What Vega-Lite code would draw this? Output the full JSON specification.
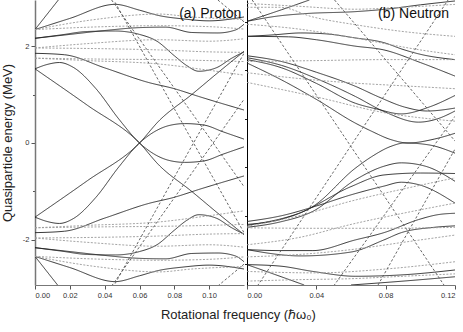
{
"$schema":"https://vega.github.io/schema/vega-lite/v6.json",
"padding":{"left":1,"top":0,"right":2,"bottom":4},
"config":{"font":"Liberation Sans","view":{"stroke":null},"concat":{"spacing":0}},
"title":{"text":"Rotational frequency (ℏω₀)","orient":"bottom","anchor":"middle","fontSize":13,"fontWeight":"normal","color":"#222","offset":10,"dx":10},
"datasets":{
"left":[
{"c":"LA","t":"s","x":0,"y":2.34},{"c":"LA","t":"s","x":0.0134,"y":2.95},
{"c":"LB","t":"s","x":0,"y":2.34},{"c":"LB","t":"s","x":0.02,"y":2.57},{"c":"LB","t":"s","x":0.046,"y":2.86},{"c":"LB","t":"s","x":0.06,"y":2.74},{"c":"LB","t":"s","x":0.071,"y":2.63},{"c":"LB","t":"s","x":0.085,"y":2.56},{"c":"LB","t":"s","x":0.1,"y":2.52},{"c":"LB","t":"s","x":0.12,"y":2.6},
{"c":"LC","t":"s","x":0,"y":2.16},{"c":"LC","t":"s","x":0.02,"y":2.24},{"c":"LC","t":"s","x":0.04,"y":2.32},{"c":"LC","t":"s","x":0.06,"y":2.38},{"c":"LC","t":"s","x":0.075,"y":2.39},{"c":"LC","t":"s","x":0.09,"y":2.28},{"c":"LC","t":"s","x":0.105,"y":2.27},{"c":"LC","t":"s","x":0.115,"y":2.33},{"c":"LC","t":"s","x":0.12,"y":2.45},
{"c":"LD","t":"s","x":0,"y":2.16},{"c":"LD","t":"s","x":0.015,"y":2.23},{"c":"LD","t":"s","x":0.03,"y":2.3},{"c":"LD","t":"s","x":0.046,"y":2.31},{"c":"LD","t":"s","x":0.06,"y":2.24},{"c":"LD","t":"s","x":0.07,"y":2.1},{"c":"LD","t":"s","x":0.08,"y":1.8},{"c":"LD","t":"s","x":0.087,"y":1.6},{"c":"LD","t":"s","x":0.094,"y":1.48},{"c":"LD","t":"s","x":0.104,"y":1.55},{"c":"LD","t":"s","x":0.113,"y":1.75},{"c":"LD","t":"s","x":0.12,"y":1.88},
{"c":"LE","t":"s","x":0,"y":1.53},{"c":"LE","t":"s","x":0.007,"y":1.62},{"c":"LE","t":"s","x":0.014,"y":1.66},{"c":"LE","t":"s","x":0.022,"y":1.56},{"c":"LE","t":"s","x":0.035,"y":1.12},{"c":"LE","t":"s","x":0.048,"y":0.5},{"c":"LE","t":"s","x":0.06,"y":0},{"c":"LE","t":"s","x":0.068,"y":-0.22},{"c":"LE","t":"s","x":0.077,"y":-0.36},{"c":"LE","t":"s","x":0.086,"y":-0.4},{"c":"LE","t":"s","x":0.097,"y":-0.37},{"c":"LE","t":"s","x":0.108,"y":-0.23},{"c":"LE","t":"s","x":0.12,"y":-0.08},
{"c":"LF","t":"s","x":0,"y":1.53},{"c":"LF","t":"s","x":0.03,"y":0.78},{"c":"LF","t":"s","x":0.06,"y":0},{"c":"LF","t":"s","x":0.071,"y":-0.45},{"c":"LF","t":"s","x":0.09,"y":-1.0},{"c":"LF","t":"s","x":0.105,"y":-1.45},{"c":"LF","t":"s","x":0.12,"y":-1.89},
{"c":"LG","t":"s","x":0,"y":1.85},{"c":"LG","t":"s","x":0.017,"y":1.82},{"c":"LG","t":"s","x":0.04,"y":1.55},{"c":"LG","t":"s","x":0.065,"y":1.25},{"c":"LG","t":"s","x":0.08,"y":1.12},{"c":"LG","t":"s","x":0.094,"y":0.96},{"c":"LG","t":"s","x":0.12,"y":0.68},
{"c":"Ld3","t":"d","x":0,"y":2.34},{"c":"Ld3","t":"d","x":0.035,"y":2.55},{"c":"Ld3","t":"d","x":0.071,"y":2.66},{"c":"Ld3","t":"d","x":0.09,"y":2.6},{"c":"Ld3","t":"d","x":0.12,"y":2.55},
{"c":"Ld4","t":"d","x":0,"y":2.34},{"c":"Ld4","t":"d","x":0.04,"y":2.4},{"c":"Ld4","t":"d","x":0.071,"y":2.42},{"c":"Ld4","t":"d","x":0.1,"y":2.4},{"c":"Ld4","t":"d","x":0.12,"y":2.35},
{"c":"Ld5","t":"d","x":0,"y":1.96},{"c":"Ld5","t":"d","x":0.03,"y":1.95},{"c":"Ld5","t":"d","x":0.071,"y":1.92},{"c":"Ld5","t":"d","x":0.1,"y":1.88},{"c":"Ld5","t":"d","x":0.12,"y":1.87},
{"c":"Ld6","t":"d","x":0,"y":1.96},{"c":"Ld6","t":"d","x":0.03,"y":2.05},{"c":"Ld6","t":"d","x":0.071,"y":2.13},{"c":"Ld6","t":"d","x":0.1,"y":2.1},{"c":"Ld6","t":"d","x":0.12,"y":2.15},
{"c":"Ld7","t":"d","x":0,"y":1.75},{"c":"Ld7","t":"d","x":0.03,"y":1.7},{"c":"Ld7","t":"d","x":0.071,"y":1.63},{"c":"Ld7","t":"d","x":0.1,"y":1.5},{"c":"Ld7","t":"d","x":0.12,"y":1.4},
{"c":"Ld8","t":"d","x":0,"y":1.75},{"c":"Ld8","t":"d","x":0.04,"y":1.73},{"c":"Ld8","t":"d","x":0.071,"y":1.72},{"c":"Ld8","t":"d","x":0.1,"y":1.7},{"c":"Ld8","t":"d","x":0.12,"y":1.68},
{"c":"Ld1","t":"l","x":0.044,"y":2.95},{"c":"Ld1","t":"l","x":0.1023,"y":0},{"c":"Ld1","t":"l","x":0.12,"y":-0.9},
{"c":"Ld2","t":"l","x":0.046,"y":2.9},{"c":"Ld2","t":"l","x":0.091,"y":0},{"c":"Ld2","t":"l","x":0.12,"y":-1.85},
{"c":"Ld9","t":"l","x":0.105,"y":2.95},{"c":"Ld9","t":"l","x":0.12,"y":2.5},
{"c":"LAm","t":"s","x":0,"y":-2.34},{"c":"LAm","t":"s","x":0.0134,"y":-2.95},
{"c":"LBm","t":"s","x":0,"y":-2.34},{"c":"LBm","t":"s","x":0.02,"y":-2.57},{"c":"LBm","t":"s","x":0.046,"y":-2.86},{"c":"LBm","t":"s","x":0.06,"y":-2.74},{"c":"LBm","t":"s","x":0.071,"y":-2.63},{"c":"LBm","t":"s","x":0.085,"y":-2.56},{"c":"LBm","t":"s","x":0.1,"y":-2.52},{"c":"LBm","t":"s","x":0.12,"y":-2.6},
{"c":"LCm","t":"s","x":0,"y":-2.16},{"c":"LCm","t":"s","x":0.02,"y":-2.24},{"c":"LCm","t":"s","x":0.04,"y":-2.32},{"c":"LCm","t":"s","x":0.06,"y":-2.38},{"c":"LCm","t":"s","x":0.075,"y":-2.39},{"c":"LCm","t":"s","x":0.09,"y":-2.28},{"c":"LCm","t":"s","x":0.105,"y":-2.27},{"c":"LCm","t":"s","x":0.115,"y":-2.33},{"c":"LCm","t":"s","x":0.12,"y":-2.45},
{"c":"LDm","t":"s","x":0,"y":-2.16},{"c":"LDm","t":"s","x":0.015,"y":-2.23},{"c":"LDm","t":"s","x":0.03,"y":-2.3},{"c":"LDm","t":"s","x":0.046,"y":-2.31},{"c":"LDm","t":"s","x":0.06,"y":-2.24},{"c":"LDm","t":"s","x":0.07,"y":-2.1},{"c":"LDm","t":"s","x":0.08,"y":-1.8},{"c":"LDm","t":"s","x":0.087,"y":-1.6},{"c":"LDm","t":"s","x":0.094,"y":-1.48},{"c":"LDm","t":"s","x":0.104,"y":-1.55},{"c":"LDm","t":"s","x":0.113,"y":-1.75},{"c":"LDm","t":"s","x":0.12,"y":-1.88},
{"c":"LEm","t":"s","x":0,"y":-1.53},{"c":"LEm","t":"s","x":0.007,"y":-1.62},{"c":"LEm","t":"s","x":0.014,"y":-1.66},{"c":"LEm","t":"s","x":0.022,"y":-1.56},{"c":"LEm","t":"s","x":0.035,"y":-1.12},{"c":"LEm","t":"s","x":0.048,"y":-0.5},{"c":"LEm","t":"s","x":0.06,"y":0},{"c":"LEm","t":"s","x":0.068,"y":0.22},{"c":"LEm","t":"s","x":0.077,"y":0.36},{"c":"LEm","t":"s","x":0.086,"y":0.4},{"c":"LEm","t":"s","x":0.097,"y":0.37},{"c":"LEm","t":"s","x":0.108,"y":0.23},{"c":"LEm","t":"s","x":0.12,"y":0.08},
{"c":"LFm","t":"s","x":0,"y":-1.53},{"c":"LFm","t":"s","x":0.03,"y":-0.78},{"c":"LFm","t":"s","x":0.06,"y":0},{"c":"LFm","t":"s","x":0.071,"y":0.45},{"c":"LFm","t":"s","x":0.09,"y":1.0},{"c":"LFm","t":"s","x":0.105,"y":1.45},{"c":"LFm","t":"s","x":0.12,"y":1.89},
{"c":"LGm","t":"s","x":0,"y":-1.85},{"c":"LGm","t":"s","x":0.017,"y":-1.82},{"c":"LGm","t":"s","x":0.04,"y":-1.55},{"c":"LGm","t":"s","x":0.065,"y":-1.25},{"c":"LGm","t":"s","x":0.08,"y":-1.12},{"c":"LGm","t":"s","x":0.094,"y":-0.96},{"c":"LGm","t":"s","x":0.12,"y":-0.68},
{"c":"Ld3m","t":"d","x":0,"y":-2.34},{"c":"Ld3m","t":"d","x":0.035,"y":-2.55},{"c":"Ld3m","t":"d","x":0.071,"y":-2.66},{"c":"Ld3m","t":"d","x":0.09,"y":-2.6},{"c":"Ld3m","t":"d","x":0.12,"y":-2.55},
{"c":"Ld4m","t":"d","x":0,"y":-2.34},{"c":"Ld4m","t":"d","x":0.04,"y":-2.4},{"c":"Ld4m","t":"d","x":0.071,"y":-2.42},{"c":"Ld4m","t":"d","x":0.1,"y":-2.4},{"c":"Ld4m","t":"d","x":0.12,"y":-2.35},
{"c":"Ld5m","t":"d","x":0,"y":-1.96},{"c":"Ld5m","t":"d","x":0.03,"y":-1.95},{"c":"Ld5m","t":"d","x":0.071,"y":-1.92},{"c":"Ld5m","t":"d","x":0.1,"y":-1.88},{"c":"Ld5m","t":"d","x":0.12,"y":-1.87},
{"c":"Ld6m","t":"d","x":0,"y":-1.96},{"c":"Ld6m","t":"d","x":0.03,"y":-2.05},{"c":"Ld6m","t":"d","x":0.071,"y":-2.13},{"c":"Ld6m","t":"d","x":0.1,"y":-2.1},{"c":"Ld6m","t":"d","x":0.12,"y":-2.15},
{"c":"Ld7m","t":"d","x":0,"y":-1.75},{"c":"Ld7m","t":"d","x":0.03,"y":-1.7},{"c":"Ld7m","t":"d","x":0.071,"y":-1.63},{"c":"Ld7m","t":"d","x":0.1,"y":-1.5},{"c":"Ld7m","t":"d","x":0.12,"y":-1.4},
{"c":"Ld8m","t":"d","x":0,"y":-1.75},{"c":"Ld8m","t":"d","x":0.04,"y":-1.73},{"c":"Ld8m","t":"d","x":0.071,"y":-1.72},{"c":"Ld8m","t":"d","x":0.1,"y":-1.7},{"c":"Ld8m","t":"d","x":0.12,"y":-1.68},
{"c":"Ld1m","t":"l","x":0.044,"y":-2.95},{"c":"Ld1m","t":"l","x":0.1023,"y":0},{"c":"Ld1m","t":"l","x":0.12,"y":0.9},
{"c":"Ld2m","t":"l","x":0.046,"y":-2.9},{"c":"Ld2m","t":"l","x":0.091,"y":0},{"c":"Ld2m","t":"l","x":0.12,"y":1.85},
{"c":"Ld9m","t":"l","x":0.105,"y":-2.95},{"c":"Ld9m","t":"l","x":0.12,"y":-2.5}
],
"right":[
{"c":"R1","t":"s","x":0,"y":2.51},{"c":"R1","t":"s","x":0.018,"y":2.62},{"c":"R1","t":"s","x":0.034,"y":2.67},{"c":"R1","t":"s","x":0.0625,"y":2.71},{"c":"R1","t":"s","x":0.08,"y":2.76},{"c":"R1","t":"s","x":0.1,"y":2.85},{"c":"R1","t":"s","x":0.12,"y":2.93},
{"c":"R2","t":"s","x":0,"y":2.51},{"c":"R2","t":"s","x":0.02,"y":2.75},{"c":"R2","t":"s","x":0.036,"y":2.95},
{"c":"R3","t":"s","x":0,"y":2.2},{"c":"R3","t":"s","x":0.015,"y":2.23},{"c":"R3","t":"s","x":0.031,"y":2.27},{"c":"R3","t":"s","x":0.046,"y":2.25},{"c":"R3","t":"s","x":0.062,"y":2.17},{"c":"R3","t":"s","x":0.079,"y":2.07},{"c":"R3","t":"s","x":0.09,"y":1.93},{"c":"R3","t":"s","x":0.1,"y":1.83},{"c":"R3","t":"s","x":0.12,"y":1.72},
{"c":"R4","t":"s","x":0,"y":2.2},{"c":"R4","t":"s","x":0.024,"y":2.19},{"c":"R4","t":"s","x":0.04,"y":2.13},{"c":"R4","t":"s","x":0.062,"y":2.0},{"c":"R4","t":"s","x":0.079,"y":1.92},{"c":"R4","t":"s","x":0.1,"y":1.66},{"c":"R4","t":"s","x":0.12,"y":1.38},
{"c":"R5","t":"s","x":0,"y":1.8},{"c":"R5","t":"s","x":0.02,"y":1.68},{"c":"R5","t":"s","x":0.04,"y":1.46},{"c":"R5","t":"s","x":0.0625,"y":1.17},{"c":"R5","t":"s","x":0.076,"y":0.95},{"c":"R5","t":"s","x":0.091,"y":0.74},{"c":"R5","t":"s","x":0.104,"y":0.66},{"c":"R5","t":"s","x":0.12,"y":0.72},
{"c":"R6","t":"s","x":0,"y":1.76},{"c":"R6","t":"s","x":0.02,"y":1.6},{"c":"R6","t":"s","x":0.04,"y":1.33},{"c":"R6","t":"s","x":0.0625,"y":0.96},{"c":"R6","t":"s","x":0.079,"y":0.65},{"c":"R6","t":"s","x":0.099,"y":0.43},{"c":"R6","t":"s","x":0.11,"y":0.5},{"c":"R6","t":"s","x":0.12,"y":0.66},
{"c":"R7","t":"s","x":0,"y":1.72},{"c":"R7","t":"s","x":0.02,"y":1.55},{"c":"R7","t":"s","x":0.04,"y":1.23},{"c":"R7","t":"s","x":0.0625,"y":0.82},{"c":"R7","t":"s","x":0.075,"y":0.7},{"c":"R7","t":"s","x":0.089,"y":0.6},{"c":"R7","t":"s","x":0.105,"y":0.74},{"c":"R7","t":"s","x":0.12,"y":0.98},
{"c":"R8","t":"s","x":0,"y":1.65},{"c":"R8","t":"s","x":0.02,"y":1.3},{"c":"R8","t":"s","x":0.04,"y":0.9},{"c":"R8","t":"s","x":0.0625,"y":0.41},{"c":"R8","t":"s","x":0.072,"y":0.24},{"c":"R8","t":"s","x":0.083,"y":0.07},{"c":"R8","t":"s","x":0.093,"y":0},{"c":"R8","t":"s","x":0.108,"y":0.08},{"c":"R8","t":"s","x":0.12,"y":0.2},
{"c":"L1","t":"s","x":0,"y":-1.68},{"c":"L1","t":"s","x":0.019,"y":-1.58},{"c":"L1","t":"s","x":0.038,"y":-1.31},{"c":"L1","t":"s","x":0.0625,"y":-0.52},{"c":"L1","t":"s","x":0.072,"y":-0.28},{"c":"L1","t":"s","x":0.083,"y":-0.07},{"c":"L1","t":"s","x":0.091,"y":0},{"c":"L1","t":"s","x":0.105,"y":-0.04},{"c":"L1","t":"s","x":0.12,"y":-0.21},
{"c":"L2","t":"s","x":0,"y":-1.74},{"c":"L2","t":"s","x":0.019,"y":-1.63},{"c":"L2","t":"s","x":0.038,"y":-1.41},{"c":"L2","t":"s","x":0.0625,"y":-0.76},{"c":"L2","t":"s","x":0.079,"y":-0.48},{"c":"L2","t":"s","x":0.089,"y":-0.41},{"c":"L2","t":"s","x":0.103,"y":-0.48},{"c":"L2","t":"s","x":0.12,"y":-0.79},
{"c":"L3","t":"s","x":0,"y":-1.7},{"c":"L3","t":"s","x":0.03,"y":-1.45},{"c":"L3","t":"s","x":0.06,"y":-0.9},{"c":"L3","t":"s","x":0.079,"y":-0.66},{"c":"L3","t":"s","x":0.1,"y":-0.62},{"c":"L3","t":"s","x":0.12,"y":-0.63},
{"c":"L4","t":"s","x":0,"y":-1.62},{"c":"L4","t":"s","x":0.02,"y":-1.5},{"c":"L4","t":"s","x":0.04,"y":-1.3},{"c":"L4","t":"s","x":0.06,"y":-1.07},{"c":"L4","t":"s","x":0.079,"y":-0.89},{"c":"L4","t":"s","x":0.089,"y":-0.81},{"c":"L4","t":"s","x":0.099,"y":-0.86},{"c":"L4","t":"s","x":0.12,"y":-1.24},
{"c":"L5","t":"s","x":0,"y":-2.2},{"c":"L5","t":"s","x":0.019,"y":-2.22},{"c":"L5","t":"s","x":0.038,"y":-2.22},{"c":"L5","t":"s","x":0.0625,"y":-2.0},{"c":"L5","t":"s","x":0.079,"y":-1.85},{"c":"L5","t":"s","x":0.099,"y":-1.58},{"c":"L5","t":"s","x":0.11,"y":-1.48},{"c":"L5","t":"s","x":0.12,"y":-1.45},
{"c":"L6","t":"s","x":0,"y":-2.2},{"c":"L6","t":"s","x":0.031,"y":-2.33},{"c":"L6","t":"s","x":0.06,"y":-2.25},{"c":"L6","t":"s","x":0.079,"y":-2.0},{"c":"L6","t":"s","x":0.089,"y":-1.85},{"c":"L6","t":"s","x":0.108,"y":-1.74},{"c":"L6","t":"s","x":0.12,"y":-1.71},
{"c":"L7","t":"s","x":0,"y":-2.51},{"c":"L7","t":"s","x":0.019,"y":-2.54},{"c":"L7","t":"s","x":0.038,"y":-2.65},{"c":"L7","t":"s","x":0.0625,"y":-2.75},{"c":"L7","t":"s","x":0.09,"y":-2.72},{"c":"L7","t":"s","x":0.12,"y":-2.62},
{"c":"L8","t":"s","x":0,"y":-2.51},{"c":"L8","t":"s","x":0.019,"y":-2.75},{"c":"L8","t":"s","x":0.033,"y":-2.93},
{"c":"L9","t":"s","x":0.06,"y":-2.93},{"c":"L9","t":"s","x":0.09,"y":-2.85},{"c":"L9","t":"s","x":0.12,"y":-2.76},
{"c":"Rd6","t":"d","x":0,"y":1.68},{"c":"Rd6","t":"d","x":0.04,"y":1.7},{"c":"Rd6","t":"d","x":0.08,"y":1.72},{"c":"Rd6","t":"d","x":0.12,"y":1.72},
{"c":"Rd7","t":"d","x":0,"y":2.88},{"c":"Rd7","t":"d","x":0.03,"y":2.82},{"c":"Rd7","t":"d","x":0.0625,"y":2.76},{"c":"Rd7","t":"d","x":0.09,"y":2.8},{"c":"Rd7","t":"d","x":0.12,"y":2.86},
{"c":"Rd8","t":"d","x":0,"y":2.8},{"c":"Rd8","t":"d","x":0.019,"y":2.8},{"c":"Rd8","t":"d","x":0.038,"y":2.6},{"c":"Rd8","t":"d","x":0.0625,"y":2.44},{"c":"Rd8","t":"d","x":0.09,"y":2.3},{"c":"Rd8","t":"d","x":0.12,"y":2.2},
{"c":"Rd9","t":"d","x":0,"y":2.45},{"c":"Rd9","t":"d","x":0.03,"y":2.35},{"c":"Rd9","t":"d","x":0.06,"y":2.18},{"c":"Rd9","t":"d","x":0.1,"y":1.92},{"c":"Rd9","t":"d","x":0.12,"y":1.82},
{"c":"Rd10","t":"d","x":0,"y":1.45},{"c":"Rd10","t":"d","x":0.03,"y":1.33},{"c":"Rd10","t":"d","x":0.06,"y":1.24},{"c":"Rd10","t":"d","x":0.09,"y":1.18},{"c":"Rd10","t":"d","x":0.12,"y":1.12},
{"c":"Rd11","t":"d","x":0,"y":1.25},{"c":"Rd11","t":"d","x":0.04,"y":0.95},{"c":"Rd11","t":"d","x":0.08,"y":0.62},{"c":"Rd11","t":"d","x":0.12,"y":0.45},
{"c":"rd12","t":"d","x":0,"y":-1.72},{"c":"rd12","t":"d","x":0.03,"y":-1.5},{"c":"rd12","t":"d","x":0.06,"y":-1.2},{"c":"rd12","t":"d","x":0.09,"y":-0.95},{"c":"rd12","t":"d","x":0.12,"y":-0.72},
{"c":"rd13","t":"d","x":0,"y":-1.75},{"c":"rd13","t":"d","x":0.04,"y":-1.76},{"c":"rd13","t":"d","x":0.08,"y":-1.76},{"c":"rd13","t":"d","x":0.12,"y":-1.74},
{"c":"rd14","t":"d","x":0,"y":-2.1},{"c":"rd14","t":"d","x":0.03,"y":-1.95},{"c":"rd14","t":"d","x":0.06,"y":-1.68},{"c":"rd14","t":"d","x":0.09,"y":-1.45},{"c":"rd14","t":"d","x":0.12,"y":-1.24},
{"c":"rd15","t":"d","x":0,"y":-2.35},{"c":"rd15","t":"d","x":0.03,"y":-2.3},{"c":"rd15","t":"d","x":0.06,"y":-2.2},{"c":"rd15","t":"d","x":0.09,"y":-2.05},{"c":"rd15","t":"d","x":0.12,"y":-1.9},
{"c":"rd16","t":"d","x":0,"y":-2.85},{"c":"rd16","t":"d","x":0.03,"y":-2.82},{"c":"rd16","t":"d","x":0.06,"y":-2.8},{"c":"rd16","t":"d","x":0.09,"y":-2.75},{"c":"rd16","t":"d","x":0.12,"y":-2.7},
{"c":"rd17","t":"d","x":0,"y":-2.65},{"c":"rd17","t":"d","x":0.04,"y":-2.68},{"c":"rd17","t":"d","x":0.08,"y":-2.6},{"c":"rd17","t":"d","x":0.12,"y":-2.45},
{"c":"Rd1","t":"l","x":0.003,"y":2.95},{"c":"Rd1","t":"l","x":0.0586,"y":0},{"c":"Rd1","t":"l","x":0.114,"y":-2.95},
{"c":"Rd2","t":"l","x":0.006,"y":-2.95},{"c":"Rd2","t":"l","x":0.061,"y":0},{"c":"Rd2","t":"l","x":0.116,"y":2.95},
{"c":"Rd3","t":"l","x":0.0505,"y":2.95},{"c":"Rd3","t":"l","x":0.121,"y":0},
{"c":"Rd4","t":"l","x":0.05,"y":-2.95},{"c":"Rd4","t":"l","x":0.109,"y":0},{"c":"Rd4","t":"l","x":0.12,"y":0.55},
{"c":"Rd5","t":"l","x":0.0756,"y":-2.93},{"c":"Rd5","t":"l","x":0.122,"y":0}
]},
"hconcat":[
{"width":209,"height":285,
 "layer":[
  {"data":{"name":"left"},
   "mark":{"type":"line","clip":true,"interpolate":"monotone","strokeWidth":0.9},
   "encoding":{
    "x":{"field":"x","type":"quantitative","scale":{"domain":[0,0.12],"nice":false},
      "axis":{"title":null,"values":[0,0.01,0.02,0.03,0.04,0.05,0.06,0.07,0.08,0.09,0.1,0.11],"format":".2f","labelExpr":"round(datum.value*100) % 2 == 0 ? datum.label : ''","tickSize":{"condition":{"test":"round(datum.value*100) % 2 == 0","value":4},"value":3},"labelFontSize":7.5,"labelColor":"#333","labelPadding":2,"domainColor":"#777","domainWidth":1.2,"tickColor":"#555","grid":false}},
    "y":{"field":"y","type":"quantitative","scale":{"domain":[-2.93,2.95],"nice":false,"zero":false},
      "axis":{"title":"Quasiparticle energy (MeV)","values":[-2,-1,0,1,2],"labelExpr":"datum.value == 2 ? '2' : datum.value == 0 ? '0' : datum.value == -2 ? '-2' : ''","tickSize":{"condition":{"test":"datum.value % 2 == 0","value":4},"value":2.5},"labelFontSize":7.5,"labelColor":"#333","labelPadding":2,"domainColor":"#777","domainWidth":1.5,"tickColor":"#555","titleFontSize":13,"titleFontWeight":"normal","titleColor":"#222","titlePadding":8,"grid":false}},
    "detail":{"field":"c"},
    "color":{"field":"t","type":"nominal","scale":{"domain":["s","d","l"],"range":["#222222","#9a9a9a","#555555"]},"legend":null},
    "strokeDash":{"field":"t","type":"nominal","scale":{"domain":["s","d","l"],"range":[[1,0],[2,1.5],[2.5,2]]},"legend":null}
   }},
  {"mark":{"type":"rule","color":"#444","strokeWidth":0.8,"strokeDash":[4,1.5,1,1.5]},"encoding":{"y":{"datum":0}}},
  {"data":{"values":[{"label":"(a) Proton"}]},
   "mark":{"type":"text","align":"right","baseline":"middle","fontSize":14,"color":"#111"},
   "encoding":{"x":{"datum":0.1185},"y":{"datum":2.66},"text":{"field":"label"}}}
 ]},
{"width":208,"height":285,
 "layer":[
  {"data":{"name":"right"},
   "mark":{"type":"line","clip":true,"interpolate":"monotone","strokeWidth":0.9},
   "encoding":{
    "x":{"field":"x","type":"quantitative","scale":{"domain":[0,0.12],"nice":false},
      "axis":{"title":null,"values":[0,0.01,0.02,0.03,0.04,0.05,0.06,0.07,0.08,0.09,0.1,0.11,0.12],"format":".2f","labelExpr":"round(datum.value*100) % 2 == 0 ? datum.label : ''","tickSize":{"condition":{"test":"round(datum.value*100) % 2 == 0","value":4},"value":3},"labelFontSize":7.5,"labelColor":"#333","labelPadding":2,"domainColor":"#777","domainWidth":1.2,"tickColor":"#555","grid":false}},
    "y":{"field":"y","type":"quantitative","scale":{"domain":[-2.93,2.95],"nice":false,"zero":false},
      "axis":{"title":null,"values":[-2.5,-2,-1.5,-1,-0.5,0,0.5,1,1.5,2,2.5],"labels":false,"tickSize":{"condition":{"test":"datum.value % 1 == 0","value":4},"value":2.5},"domainColor":"#000","domainWidth":1,"tickColor":"#222","grid":false}},
    "detail":{"field":"c"},
    "color":{"field":"t","type":"nominal","scale":{"domain":["s","d","l"],"range":["#222222","#9a9a9a","#555555"]},"legend":null},
    "strokeDash":{"field":"t","type":"nominal","scale":{"domain":["s","d","l"],"range":[[1,0],[2,1.5],[2.5,2]]},"legend":null}
   }},
  {"mark":{"type":"rule","color":"#444","strokeWidth":0.8,"strokeDash":[4,1.5,1,1.5]},"encoding":{"y":{"datum":0}}},
  {"data":{"values":[{"label":"(b) Neutron"}]},
   "mark":{"type":"text","align":"right","baseline":"middle","fontSize":14,"color":"#111"},
   "encoding":{"x":{"datum":0.1165},"y":{"datum":2.66},"text":{"field":"label"}}}
 ]}
]
}
